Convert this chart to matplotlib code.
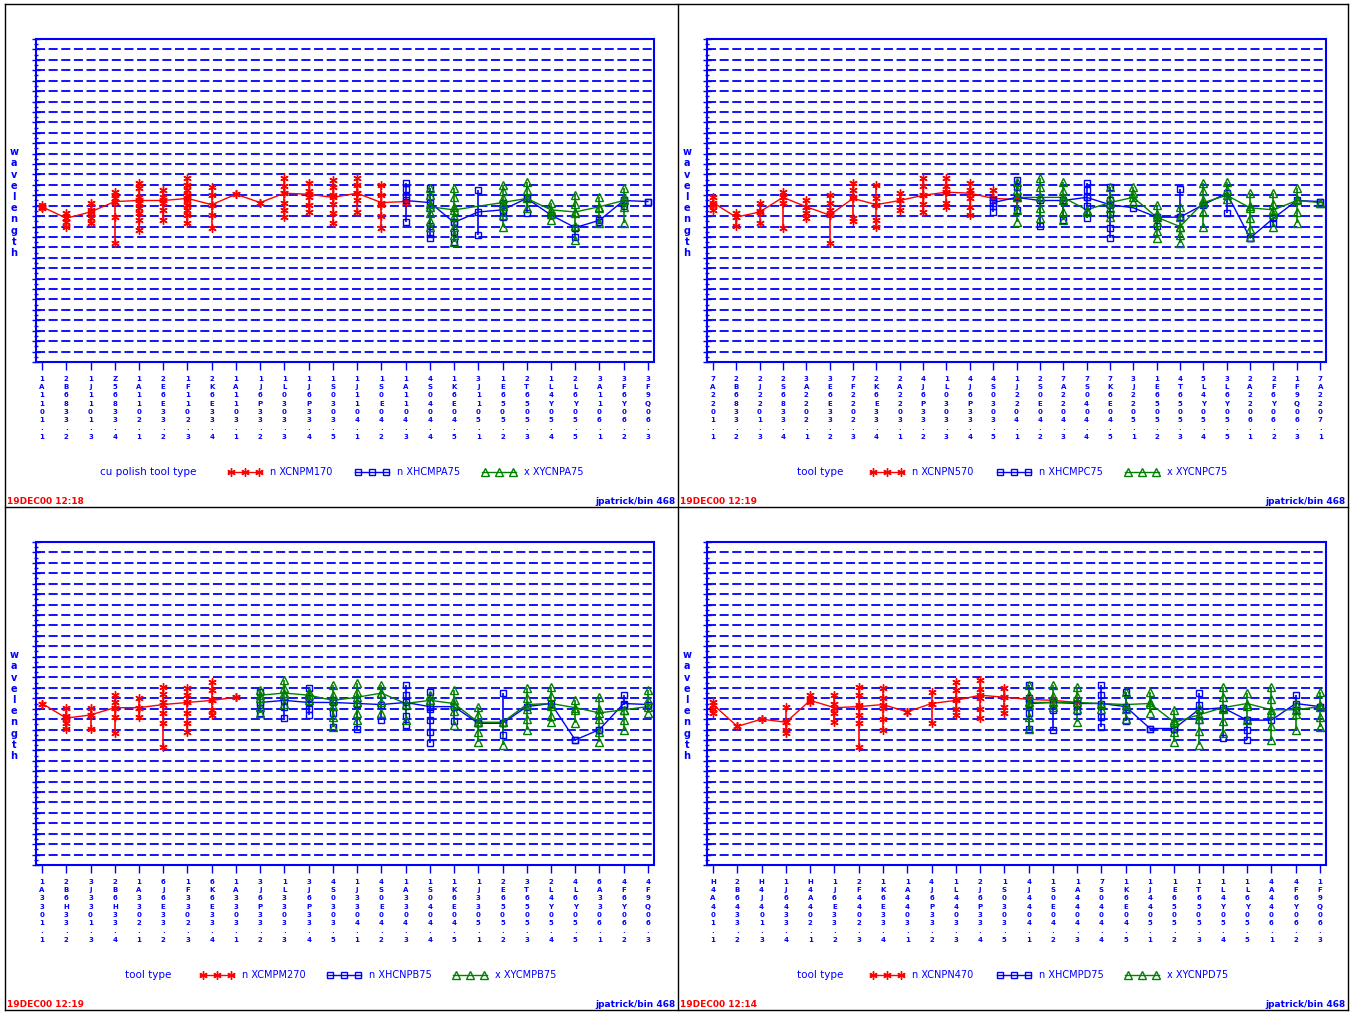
import matplotlib
matplotlib.use("Agg")
import matplotlib.pyplot as plt
from matplotlib.lines import Line2D

W, H = 1351, 1013
BLUE = "#0000ff"
RED = "#ff0000"
GREEN = "#008000"

# ---------------- panel 1 (top left) ----------------
p1_labels = ["1A1101.1", "2B6833.2", "1J1101.3", "Z56833.4", "1A1102.1", "2E6E33.2",
             "1F1102.3", "2K6E33.4", "1A1103.1", "1J6P33.2", "1L0303.3", "1J6P33.4",
             "1S0303.5", "1J1104.1", "1S0E04.2", "1A1104.3", "4S0404.4", "1K6E04.5",
             "3J1105.1", "1E6505.2", "2T6505.3", "1L4Y05.4", "2L6Y05.5", "3A1106.1",
             "3F6Y06.2", "3F9Q06.3"]
p1_red_x = list(range(16))
p1_red_mid = [14.9, 13.8, 14.4, 15.4, 15.5, 15.5, 15.7, 15.1, 16.1, 15.3, 16.2, 16.1,
              15.8, 16.2, 15.3, 15.4]
p1_red_pts = [[15.1, 14.9, 14.8], [14.3, 13.8, 13.4, 13.0], [15.3, 14.6, 13.8, 13.3],
              [16.3, 16.0, 15.7, 15.4, 13.9, 11.4],
              [17.2, 16.7, 15.8, 15.3, 14.8, 14.3, 13.6, 12.7],
              [16.5, 15.8, 15.3, 14.6, 13.6],
              [17.7, 17.0, 16.5, 16.0, 15.5, 15.1, 14.6, 14.1, 13.3],
              [16.8, 16.0, 15.1, 14.1, 12.9], [16.1], [15.3],
              [17.7, 16.9, 16.2, 15.3, 14.6, 13.9], [17.2, 16.4, 15.8, 15.1, 14.4],
              [17.5, 16.8, 16.0, 15.2, 14.3, 13.3], [17.7, 17.0, 16.2, 15.5, 14.4],
              [17.0, 16.0, 15.1, 14.0, 12.9], [15.4]]
p1_blue_x = list(range(15, 26))
p1_blue_mid = [15.5, 15.3, 13.4, 14.4, 14.6, 15.7, 14.1, 12.9, 13.6, 15.5, 15.4]
p1_blue_pts = [[17.2, 16.6, 15.9, 13.4], [16.7, 15.8, 14.8, 13.1, 12.3, 11.9],
               [13.4, 12.5, 11.5], [16.5, 12.2], [15.3, 14.6, 13.9], [15.7, 14.3],
               [14.1], [12.9, 12.0], [13.4], [15.5, 15.0], [15.4]]
p1_green_x = [16, 17, 19, 20, 21, 22, 23, 24]
p1_green_mid = [14.9, 14.6, 15.3, 15.7, 14.6, 14.4, 14.9, 15.5]
p1_green_pts = [[16.7, 16.0, 15.2, 14.3, 13.5, 13.0],
                [16.7, 15.8, 14.9, 14.0, 13.0, 12.2, 11.5],
                [17.0, 16.4, 15.7, 15.0, 14.1, 13.0], [17.3, 16.5, 15.7, 14.8],
                [15.3, 14.2, 13.6], [16.0, 15.2, 14.3, 13.1, 11.7],
                [15.8, 14.8, 13.3], [16.7, 15.8, 14.9, 13.3]]

# ---------------- panel 2 (top right) ----------------
p2_labels = ["7A2201.1", "2B6833.2", "2J2201.3", "2S6833.4", "3A2202.1", "3E6E33.2",
             "7F2202.3", "2K6E33.4", "2A2203.1", "4J6P33.2", "1L0303.3", "4J6P33.4",
             "4S0303.5", "1J2204.1", "2S0E04.2", "7A2204.3", "7S0404.4", "7K6E04.5",
             "3J2205.1", "1E6505.2", "4T6505.3", "5L4Y05.4", "3L6Y05.5", "2A2206.1",
             "2F6Y06.2", "1F9Q06.3", "7A2207.1"]
p2_red_x = list(range(14))
p2_red_mid = [15.3, 13.9, 14.4, 15.8, 14.9, 14.1, 15.7, 15.1, 15.5, 16.0, 16.3, 16.2,
              15.7, 15.6]
p2_red_pts = [[15.8, 15.1, 14.6], [14.3, 13.9, 13.1], [15.3, 14.5, 13.3],
              [16.3, 15.8, 15.3, 12.9], [15.5, 14.9, 14.3, 13.8],
              [16.0, 15.3, 14.6, 14.1, 11.4], [17.2, 16.5, 15.8, 13.8, 13.5],
              [17.0, 15.7, 15.1, 13.6, 13.0], [16.2, 15.5, 14.6],
              [17.7, 16.9, 16.0, 15.2, 14.4], [17.7, 16.9, 16.3, 15.3, 14.9],
              [17.2, 16.5, 15.7, 14.9, 14.1], [16.5, 15.7], []]
p2_blue_x = list(range(12, 27))
p2_blue_mid = [15.3, 15.8, 15.5, 15.5, 15.8, 15.1, 14.8, 13.9, 13.9, 15.1, 16.2, 11.9,
               13.8, 15.5, 15.4]
p2_blue_pts = [[15.5, 15.0, 14.4], [17.5, 16.8, 15.8, 14.6], [13.1], [13.6],
               [17.2, 16.5, 15.8, 15.0, 13.8], [16.8, 15.5, 14.2, 12.9, 11.9], [],
               [13.9, 13.1], [16.6, 13.9], [], [14.3], [11.9], [13.3], [], [15.4]]
p2_green_x = list(range(13, 27))
p2_green_mid = [15.8, 15.8, 15.8, 14.6, 15.3, 15.8, 13.9, 13.0, 15.3, 16.0, 14.8, 14.6,
                15.5, 15.3]
p2_green_pts = [[17.3, 16.5, 15.8, 14.6, 13.4], [17.7, 16.8, 15.8, 14.8, 13.8],
                [17.3, 16.4, 15.5, 14.4, 13.6], [14.4], [16.8, 15.8, 14.8, 13.9],
                [16.8, 16.2, 15.4], [15.1, 14.2, 13.4, 12.6, 11.9],
                [14.9, 13.9, 13.0, 12.2, 11.4], [17.2, 16.4, 15.5, 14.4, 13.0],
                [17.3, 16.5, 15.6], [16.2, 15.0, 13.8, 12.8, 12.0],
                [16.2, 15.2, 14.2, 13.0], [16.7, 15.6, 14.4, 13.3], [15.3]]

# ---------------- panel 3 (bottom left) ----------------
p3_labels = ["1A3301.1", "2B6H33.2", "3J3301.3", "2B6H33.4", "1A3302.1", "6J6E33.2",
             "1F3302.3", "6K6E33.4", "1A3303.1", "3J6P33.2", "1L3303.3", "3J6P33.4",
             "4S0303.5", "1J3304.1", "4S0E04.2", "1A3304.3", "1S0404.4", "1K6E04.5",
             "1J3305.1", "2E6505.2", "3T6505.3", "2L4Y05.4", "4L6Y05.5", "6A3306.1",
             "4F6Y06.2", "4F9Q06.3"]
p3_red_x = list(range(9))
p3_red_mid = [15.5, 14.1, 14.4, 15.1, 15.1, 15.4, 15.6, 15.8, 16.1]
p3_red_pts = [[15.5], [15.1, 14.3, 13.6, 13.1], [15.1, 14.4, 13.1],
              [16.3, 15.6, 15.1, 14.2, 12.7], [16.0, 15.1, 14.2],
              [17.1, 16.4, 15.6, 14.6, 13.6, 11.3], [17.0, 16.3, 15.6, 14.6, 13.6, 12.8],
              [17.6, 16.8, 15.8, 14.9, 14.4], [16.1]]
p3_blue_x = list(range(9, 26))
p3_blue_mid = [15.6, 15.8, 15.6, 15.6, 15.5, 15.4, 15.6, 15.2, 15.2, 13.6, 13.6, 15.2,
               15.5, 12.0, 13.0, 15.5, 15.4]
p3_blue_pts = [[16.6, 15.4, 14.6], [15.2, 14.1], [17.0, 16.0, 15.0, 14.4],
               [15.8, 14.6, 13.2], [13.1], [13.9], [17.3, 16.3, 15.3, 14.3, 13.4],
               [16.6, 15.0, 13.9, 12.8, 11.7], [13.8], [13.6], [16.5, 13.6, 12.5],
               [], [], [12.0], [13.0], [16.3, 15.4], [15.4]]
p3_green_x = list(range(9, 26))
p3_green_mid = [16.3, 16.5, 16.3, 15.8, 16.1, 16.5, 15.5, 15.8, 15.5, 13.7, 13.7, 15.4,
                15.5, 15.1, 14.6, 14.9, 15.2]
p3_green_pts = [[16.8, 16.0, 15.2, 14.6], [17.8, 17.0, 16.3, 15.5], [16.6, 15.8],
                [17.3, 16.3, 15.3, 14.2, 13.2], [17.5, 16.6, 15.6, 14.6, 13.9],
                [17.3, 16.5, 15.6, 14.6], [13.9], [16.3, 15.8],
                [16.8, 15.8, 14.8, 13.4], [15.2, 14.4, 13.7, 12.8, 11.8], [11.5],
                [17.0, 16.0, 15.0, 14.0, 13.0], [17.1, 16.2, 15.3, 14.3, 13.7],
                [15.8, 14.9, 13.6], [16.1, 15.0, 14.0, 12.8, 11.8],
                [14.9, 13.9, 13.0], [16.8, 15.8, 14.6]]

# ---------------- panel 4 (bottom right) ----------------
p4_labels = ["H4A401.1", "2B6433.2", "H4J401.3", "1J6433.4", "H4A402.1", "1J6E33.2",
             "2F4402.3", "1K6E33.4", "1A4403.1", "4J6P33.2", "1L4403.3", "2J6P33.4",
             "1S0303.5", "4J4404.1", "1S0E04.2", "1A4404.3", "7S0404.4", "1K6E04.5",
             "1J4405.1", "1E6505.2", "1T6505.3", "1L4Y05.4", "1L6Y05.5", "4A4406.1",
             "4F6Y06.2", "1F9Q06.3"]
p4_red_x = list(range(16))
p4_red_mid = [15.4, 13.3, 14.0, 13.7, 15.8, 15.1, 15.2, 15.4, 14.7, 15.5, 15.8, 16.3,
              16.1, 15.9, 15.8, 15.6]
p4_red_pts = [[15.6, 15.0, 14.6], [13.3], [14.0], [15.2, 13.7, 13.0, 12.7], [16.3, 15.6],
              [16.3, 15.5, 14.6, 13.7], [17.1, 16.3, 15.4, 14.4, 13.6, 11.3],
              [17.0, 16.0, 15.1, 14.0, 13.0], [14.7], [16.6, 15.5, 13.6],
              [17.6, 16.8, 15.9, 15.0, 14.4], [17.8, 16.9, 16.0, 15.0, 14.1],
              [17.0, 16.1, 15.2, 14.6], [], [], []]
p4_blue_x = list(range(13, 26))
p4_blue_mid = [15.5, 15.6, 15.5, 15.5, 15.2, 13.1, 13.1, 14.9, 15.1, 13.9, 13.9, 15.5, 15.2]
p4_blue_pts = [[17.3, 16.0, 14.6, 13.1], [14.9, 13.0], [15.5, 14.8],
               [17.3, 16.3, 15.3, 14.2, 13.2], [16.6, 15.0, 13.8], [13.1], [13.1],
               [16.5, 15.4, 13.9], [12.2], [13.9, 13.0, 12.0], [], [16.3, 14.9], [15.2]]
p4_green_x = list(range(13, 26))
p4_green_mid = [15.6, 15.6, 15.6, 15.5, 15.4, 15.5, 13.7, 14.4, 15.1, 15.5, 14.9, 14.9, 15.2]
p4_green_pts = [[17.3, 16.3, 15.4, 14.2, 13.1], [17.3, 16.2, 15.2],
                [17.1, 16.2, 15.0, 13.7], [15.0], [16.6, 15.0, 14.0], [16.6, 15.6, 14.6],
                [14.9, 13.9, 12.8, 11.8], [15.1, 14.0, 12.9, 11.5],
                [17.1, 16.1, 15.0, 13.8, 12.7], [16.5, 15.3, 13.9],
                [17.1, 15.9, 14.6, 13.3, 12.0], [15.5, 14.5, 13.0],
                [16.6, 15.4, 14.2, 13.2]]

legend_titles = ["cu polish tool type", "tool type", "tool type", "tool type"]
legend_red = ["n XCNPM170", "n XCNPN570", "n XCMPM270", "n XCNPN470"]
legend_blue = ["n XHCMPA75", "n XHCMPC75", "n XHCNPB75", "n XHCMPD75"]
legend_green = ["x XYCNPA75", "x XYCNPC75", "x XYCMPB75", "x XYCNPD75"]
stamps = ["19DEC00 12:18", "19DEC00 12:19", "19DEC00 12:19", "19DEC00 12:14"]
owner = "jpatrick/bin 468"

RED_MK = dict(marker=(6, 2, 0), ms=6, mec=RED, mew=1)
BLUE_MK = dict(marker="s", ms=5, mfc="none", mec=BLUE, mew=1)
GREEN_MK = dict(marker="^", ms=5.5, mfc="none", mec=GREEN, mew=1)


def draw_panel(ax, labels, series):
    n = len(labels)
    ax.set_xlim(-0.25, n - 0.75)
    ax.set_ylim(0, 31)
    for y in range(1, 31):
        ax.axhline(y, color=BLUE, lw=1.3, dashes=(5, 2), zorder=1)
    for xs, mids, pts, color, mk in series:
        for x, m, p in zip(xs, mids, pts):
            vals = p + [m]
            ax.vlines(x, min(vals), max(vals), color=color, lw=1.2, zorder=3)
            ax.plot([x] * len(vals), vals, ls="none", zorder=4, **mk)
        ax.plot(xs, mids, color=color, lw=1, zorder=3)
    ax.set_xticks(range(n))
    # characters stacked top to bottom, as in the original device font
    ax.set_xticklabels(["\n".join(s) for s in labels], fontsize=5, color=BLUE,
                       fontweight="bold", linespacing=1.45, va="top")
    ax.set_yticks(range(32))
    ax.set_yticks([v + 0.5 for v in range(31)], minor=True)
    ax.set_yticklabels([])
    ax.tick_params(axis="y", which="major", direction="inout", length=6, color=BLUE, width=1)
    ax.tick_params(axis="y", which="minor", direction="inout", length=3, color=BLUE, width=1)
    ax.tick_params(axis="x", direction="out", length=6, color=BLUE, width=1, pad=4)
    for s in ax.spines.values():
        s.set_color(BLUE)
        s.set_linewidth(1.5)


fig = plt.figure(figsize=(W / 100, H / 100), dpi=100)
fig.patch.set_facecolor("white")

# overlay in pixel coordinates for frames, legends and footers
ov = fig.add_axes([0, 0, 1, 1])
ov.set_xlim(0, W)
ov.set_ylim(H, 0)
ov.axis("off")

for x in [5, 678, 1348]:
    ov.add_line(Line2D([x, x], [4, 1010], color="black", lw=1))
for y in [4, 507, 1010]:
    ov.add_line(Line2D([5, 1348], [y, y], color="black", lw=1))

boxes = [(36, 39, 654, 362), (707, 39, 1326, 362), (36, 542, 654, 865), (707, 542, 1326, 865)]
panels = [
    (p1_labels, [(p1_red_x, p1_red_mid, p1_red_pts, RED, RED_MK),
                 (p1_blue_x, p1_blue_mid, p1_blue_pts, BLUE, BLUE_MK),
                 (p1_green_x, p1_green_mid, p1_green_pts, GREEN, GREEN_MK)]),
    (p2_labels, [(p2_red_x, p2_red_mid, p2_red_pts, RED, RED_MK),
                 (p2_blue_x, p2_blue_mid, p2_blue_pts, BLUE, BLUE_MK),
                 (p2_green_x, p2_green_mid, p2_green_pts, GREEN, GREEN_MK)]),
    (p3_labels, [(p3_red_x, p3_red_mid, p3_red_pts, RED, RED_MK),
                 (p3_blue_x, p3_blue_mid, p3_blue_pts, BLUE, BLUE_MK),
                 (p3_green_x, p3_green_mid, p3_green_pts, GREEN, GREEN_MK)]),
    (p4_labels, [(p4_red_x, p4_red_mid, p4_red_pts, RED, RED_MK),
                 (p4_blue_x, p4_blue_mid, p4_blue_pts, BLUE, BLUE_MK),
                 (p4_green_x, p4_green_mid, p4_green_pts, GREEN, GREEN_MK)]),
]

# legend layout per panel: title centre, red/blue/green sample starts
legend_pos = [(148, 228, 355, 482), (820, 870, 997, 1125),
              (148, 200, 327, 453), (820, 870, 997, 1125)]

for k, ((l, t, r, b), (labels, series)) in enumerate(zip(boxes, panels)):
    ax = fig.add_axes([l / W, 1 - b / H, (r - l) / W, (b - t) / H])
    draw_panel(ax, labels, series)

    left = 5 if k % 2 == 0 else 678
    right = 678 if k % 2 == 0 else 1348
    ly = t + 433
    fy = t + 462
    ov.text(left + 9, (t + b) / 2 + 2, "\n".join("wavelength"), color=BLUE, fontsize=7,
            fontweight="bold", ha="center", va="center", linespacing=1.15)

    tc, xr, xb, xg = legend_pos[k]
    ov.text(tc, ly, legend_titles[k], color=BLUE, fontsize=7.5, ha="center", va="center")
    for x0, color, mk, txt in [(xr, RED, RED_MK, legend_red[k]),
                               (xb, BLUE, BLUE_MK, legend_blue[k]),
                               (xg, GREEN, GREEN_MK, legend_green[k])]:
        ov.add_line(Line2D([x0, x0 + 34], [ly, ly], color=color, lw=1))
        ov.plot([x0 + 3, x0 + 17, x0 + 31], [ly, ly, ly], ls="none", **mk)
        ov.text(x0 + 42, ly, txt, color=BLUE, fontsize=7, ha="left", va="center")

    ov.text(left + 2, fy, stamps[k], color=RED, fontsize=6.5, fontweight="bold",
            ha="left", va="center")
    ov.text(right - 2, fy, owner, color=BLUE, fontsize=6.5, fontweight="bold",
            ha="right", va="center")

fig.savefig("out.png", dpi=100, facecolor="white")
